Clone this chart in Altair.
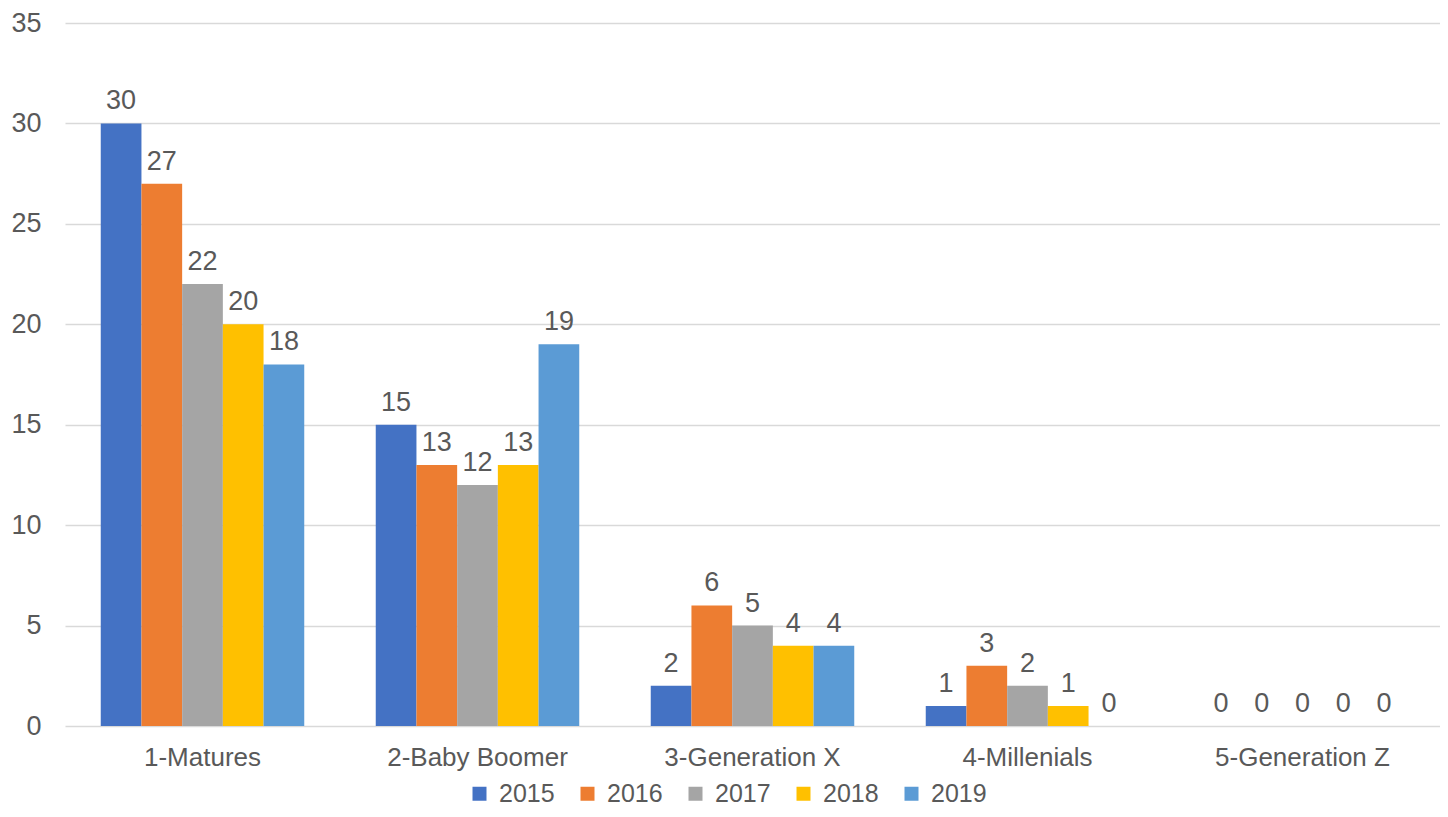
import altair as alt
import pandas as pd

categories = ["1-Matures", "2-Baby Boomer", "3-Generation X", "4-Millenials", "5-Generation Z"]
years = ["2015", "2016", "2017", "2018", "2019"]
colors = ["#4472C4", "#ED7D31", "#A5A5A5", "#FFC000", "#5B9BD5"]

v2015 = [30, 15, 2, 1, 0]
v2016 = [27, 13, 6, 3, 0]
v2017 = [22, 12, 5, 2, 0]
v2018 = [20, 13, 4, 1, 0]
v2019 = [18, 19, 4, 0, 0]

series = {"2015": v2015, "2016": v2016, "2017": v2017, "2018": v2018, "2019": v2019}
rows = []
for y in years:
    for c, v in zip(categories, series[y]):
        rows.append({"gen": c, "year": y, "value": v})
df = pd.DataFrame(rows)

FONT = "Liberation Sans"
TXT = "#595959"

base = alt.Chart(df).encode(
    x=alt.X(
        "gen:N",
        sort=categories,
        title=None,
        scale=alt.Scale(paddingInner=0.26, paddingOuter=0.13),
        axis=alt.Axis(labelAngle=0, ticks=False, domain=False, labelPadding=18,
                      labelFontSize=26, grid=False, labelLimit=0),
    ),
    xOffset=alt.XOffset("year:N", sort=years, scale=alt.Scale(paddingInner=0, paddingOuter=0)),
    y=alt.Y(
        "value:Q",
        title=None,
        scale=alt.Scale(domain=[0, 35], nice=False),
        axis=alt.Axis(values=[0, 5, 10, 15, 20, 25, 30, 35], ticks=False, domain=False,
                      labelPadding=24, labelFontSize=27, gridColor="#D9D9D9", gridWidth=1.5),
    ),
)

bars = base.mark_bar().encode(
    color=alt.Color(
        "year:N",
        sort=years,
        scale=alt.Scale(domain=years, range=colors),
        legend=alt.Legend(
            title=None, orient="none", direction="horizontal",
            legendX=402, legendY=758,
            symbolType="square", symbolSize=196, symbolStrokeWidth=0,
            labelFontSize=25, labelOffset=7, columnPadding=20,
        ),
    )
)

labels = base.mark_text(
    baseline="alphabetic", dy=-14, fontSize=27, font=FONT, color=TXT
).encode(text=alt.Text("value:Q"))

chart = (
    alt.layer(bars, labels)
    .properties(
        width=1375,
        height=703,
        padding={"left": 57, "top": 15, "right": 0, "bottom": 83},
        autosize=alt.AutoSizeParams(type="none"),
    )
    .configure_view(stroke=None)
    .configure_axis(labelFont=FONT, labelColor=TXT)
    .configure_legend(labelFont=FONT, labelColor=TXT)
)

chart.save("out.html", embed_options={"renderer": "svg", "actions": False})
